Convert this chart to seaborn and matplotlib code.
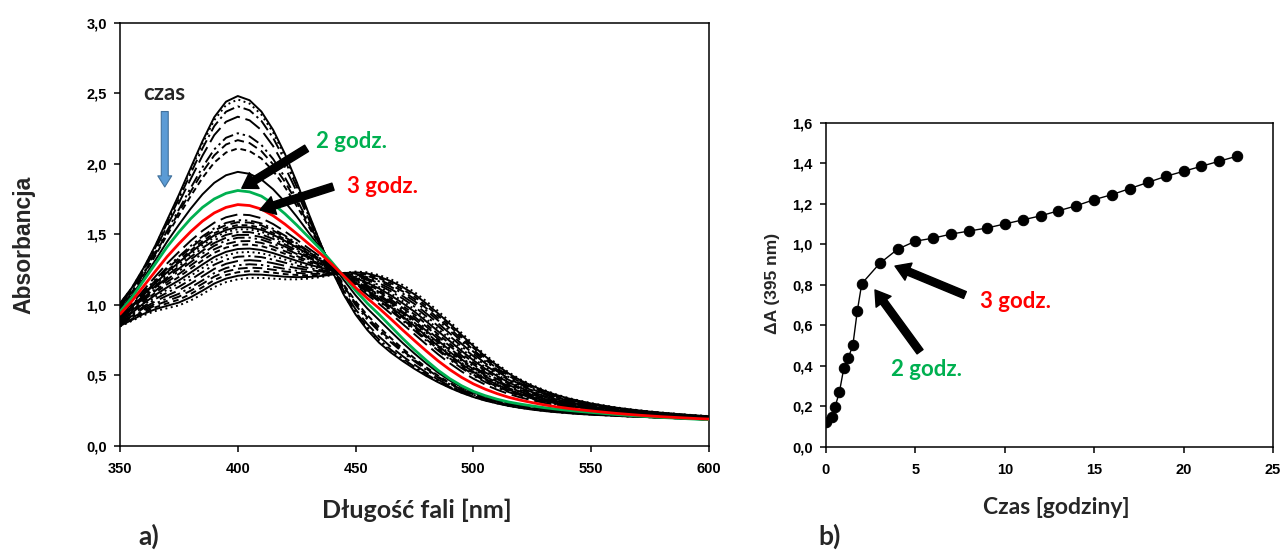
import numpy as np
import pandas as pd
import matplotlib
matplotlib.use("Agg")
import matplotlib.pyplot as plt
from matplotlib.ticker import FuncFormatter, MultipleLocator
import seaborn as sns

# --- kinetics at 395 nm -------------------------------------------------
time_h = [0, 0.33, 0.5, 0.75, 1.0, 1.25, 1.5, 1.75, 2, 3, 4, 5, 6, 7, 8, 9,
          10, 11, 12, 13, 14, 15, 16, 17, 18, 19, 20, 21, 22, 23]
delta_a = [0.12, 0.145, 0.195, 0.27, 0.39, 0.44, 0.50, 0.67, 0.805, 0.905,
           0.975, 1.015, 1.03, 1.05, 1.065, 1.08, 1.10, 1.12, 1.14, 1.165,
           1.19, 1.22, 1.245, 1.275, 1.305, 1.335, 1.36, 1.385, 1.41, 1.435]

# --- recorded spectra (350-600 nm, 5 nm step) ----------------------------
wavelength = list(range(350, 605, 5))
spec_start = [1.01, 1.12, 1.26, 1.42, 1.60, 1.78, 1.97, 2.16, 2.33, 2.44,
              2.48, 2.45, 2.37, 2.24, 2.07, 1.87, 1.65, 1.44, 1.24, 1.07,
              0.93, 0.82, 0.73, 0.66, 0.60, 0.545, 0.495, 0.45, 0.41, 0.375,
              0.345, 0.32, 0.30, 0.282, 0.268, 0.256, 0.246, 0.238, 0.231,
              0.225, 0.22, 0.216, 0.212, 0.208, 0.205, 0.202, 0.199, 0.196,
              0.193, 0.19, 0.187]
spec_2h = [0.95, 1.05, 1.17, 1.29, 1.41, 1.515, 1.61, 1.69, 1.75, 1.79,
           1.81, 1.80, 1.77, 1.715, 1.645, 1.565, 1.48, 1.395, 1.30, 1.20,
           1.10, 1.01, 0.93, 0.845, 0.76, 0.68, 0.605, 0.535, 0.475, 0.425,
           0.385, 0.355, 0.33, 0.31, 0.295, 0.282, 0.27, 0.26, 0.251, 0.243,
           0.236, 0.229, 0.222, 0.216, 0.21, 0.205, 0.20, 0.196, 0.192,
           0.188, 0.185]
spec_end = [0.845, 0.885, 0.925, 0.955, 0.975, 0.995, 1.03, 1.075, 1.125,
            1.16, 1.18, 1.19, 1.19, 1.185, 1.18, 1.18, 1.185, 1.195, 1.21,
            1.225, 1.235, 1.23, 1.21, 1.18, 1.14, 1.09, 1.025, 0.955, 0.88,
            0.80, 0.72, 0.645, 0.58, 0.52, 0.47, 0.43, 0.395, 0.365, 0.34,
            0.32, 0.302, 0.287, 0.273, 0.262, 0.252, 0.243, 0.235, 0.228,
            0.221, 0.215, 0.21]

# intermediate spectra: two-stage conversion weighted by the measured ΔA
wl = np.array(wavelength, float)
s0, s2, s23 = (np.array(s, float) for s in (spec_start, spec_2h, spec_end))
i2 = time_h.index(2)
spectra = []
for t, d in zip(time_h, delta_a):
    if t <= 2:
        w = (d - delta_a[0]) / (delta_a[i2] - delta_a[0])
        spectra.append(s0 + w * (s2 - s0))
    else:
        w = (d - delta_a[i2]) / (delta_a[-1] - delta_a[i2])
        spectra.append(s2 + w * (s23 - s2))

sns.set_theme(style="ticks")
plt.rcParams["font.family"] = ["Liberation Sans", "DejaVu Sans"]
plt.rcParams["axes.linewidth"] = 1.1

CAL = ["Lato", "DejaVu Sans"]
GREEN = "#00B050"
RED = "#FF0000"

W, H = 1283, 551
fig = plt.figure(figsize=(W / 100, H / 100), dpi=100)


def fx(px):
    return px / W


def fy(py):
    return 1 - py / H


ax1 = fig.add_axes([fx(120), fy(445.7), fx(709) - fx(120), fy(22.7) - fy(445.7)])
ax2 = fig.add_axes([fx(826), fy(446.7), fx(1273) - fx(826), fy(122.7) - fy(446.7)])

comma = FuncFormatter(lambda v, p: f"{v:.1f}".replace(".", ","))

# --- panel a: spectra ---------------------------------------------------
dash_cycle = ["-", (0, (1, 1.8)), (0, (6, 2, 1.2, 2)), (0, (9, 3)),
              (0, (6, 2, 1.2, 2, 1.2, 2)), (0, (5, 2.5)), (0, (3, 2))]
highlight = {2: GREEN, 3: RED}
for k, (t, spec) in enumerate(zip(time_h, spectra)):
    if t in highlight:
        continue
    sns.lineplot(x=wl, y=spec, ax=ax1, color="black", lw=1.4,
                 linestyle=dash_cycle[k % len(dash_cycle)], zorder=2)
for t, col in highlight.items():
    sns.lineplot(x=wl, y=spectra[time_h.index(t)], ax=ax1, color=col,
                 lw=2.0, zorder=3)

ax1.set_xlim(350, 600)
ax1.set_ylim(0, 3.0)
ax1.xaxis.set_major_locator(MultipleLocator(50))
ax1.yaxis.set_major_locator(MultipleLocator(0.5))
ax1.yaxis.set_major_formatter(comma)
ax1.set_xlabel("")
ax1.set_ylabel("")

ax1.text(369, 2.50, "czas", family=CAL, fontweight="bold", fontsize=16,
         ha="center", va="center")
ax1.annotate("", xy=(369, 1.835), xytext=(369, 2.37),
             arrowprops=dict(arrowstyle="simple,head_length=0.8,head_width=1.0,tail_width=0.5",
                             fc="#5B9BD5", ec="#41719C", lw=0.8,
                             shrinkA=0, shrinkB=0, mutation_scale=10))
ax1.text(433.4, 2.156, "2 godz.", family=CAL, fontweight="bold", fontsize=16,
         color=GREEN, ha="left", va="center")
ax1.text(446.2, 1.837, "3 godz.", family=CAL, fontweight="bold", fontsize=16,
         color=RED, ha="left", va="center")
big = dict(arrowstyle="simple,head_length=0.75,head_width=0.95,tail_width=0.38",
           fc="black", ec="black", shrinkA=0, shrinkB=0, mutation_scale=14)
ax1.annotate("", xy=(401.7, 1.826), xytext=(429.2, 2.109), arrowprops=big)
ax1.annotate("", xy=(409.4, 1.672), xytext=(440.4, 1.837), arrowprops=big)

# --- panel b: ΔA(395 nm) vs time ------------------------------------------
sns.lineplot(x=time_h, y=delta_a, ax=ax2, color="black", lw=1.0, marker="o",
             markersize=7.5, markeredgecolor="black", markerfacecolor="black")
ax2.set_xlim(0, 25)
ax2.set_ylim(0, 1.6)
ax2.xaxis.set_major_locator(MultipleLocator(5))
ax2.yaxis.set_major_locator(MultipleLocator(0.2))
ax2.yaxis.set_major_formatter(comma)
ax2.set_xlabel("")
ax2.set_ylabel("")

ax2.text(8.6, 0.716, "3 godz.", family=CAL, fontweight="bold", fontsize=16,
         color=RED, ha="left", va="center")
ax2.text(5.6, 0.379, "2 godz.", family=CAL, fontweight="bold", fontsize=16,
         color=GREEN, ha="center", va="center")
ax2.annotate("", xy=(3.86, 0.892), xytext=(7.77, 0.749), arrowprops=big)
ax2.annotate("", xy=(2.74, 0.774), xytext=(5.26, 0.469), arrowprops=big)

for ax in (ax1, ax2):
    for side in ("top", "right", "left", "bottom"):
        ax.spines[side].set_visible(True)
        ax.spines[side].set_color("black")
    ax.tick_params(direction="out", length=4.5, width=1.1, colors="black",
                   labelsize=10.5, pad=5, top=False, right=False)
    ax.tick_params(axis="x", pad=7)
    for lab in ax.get_xticklabels() + ax.get_yticklabels():
        lab.set_fontweight("bold")

# axis titles and panel letters
fig.text(fx(24), fy(245), "Absorbancja", rotation=90, fontsize=16.5,
         fontweight="bold", ha="center", va="center")
fig.text(fx(416.7), fy(510), "Długość fali [nm]", family=CAL, fontsize=18,
         fontweight="bold", ha="center", va="center")
fig.text(fx(138), fy(536), "a)", family=CAL, fontsize=19, fontweight="bold",
         ha="left", va="center")
fig.text(fx(772), fy(283), "ΔA (395 nm)", rotation=90, fontsize=12.5,
         fontweight="bold", ha="center", va="center")
fig.text(fx(1056.7), fy(508), "Czas [godziny]", family=CAL, fontsize=16.5,
         fontweight="bold", ha="center", va="center")
fig.text(fx(818), fy(536), "b)", family=CAL, fontsize=19, fontweight="bold",
         ha="left", va="center")

fig.savefig("out.png", dpi=100)
